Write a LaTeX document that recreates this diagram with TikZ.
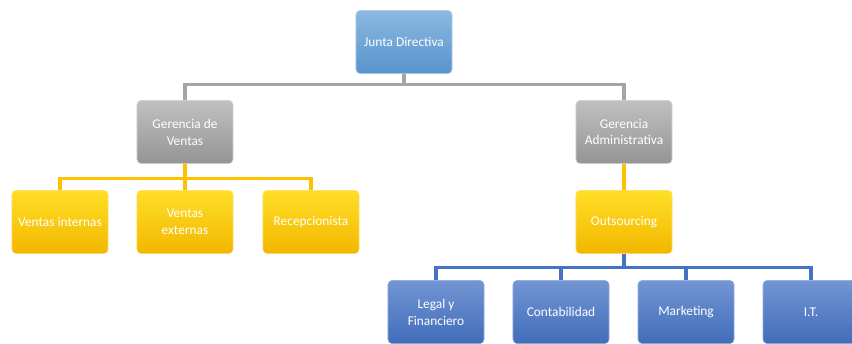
\documentclass[tikz,border=0pt]{standalone}
\usepackage{fontspec}
\setmainfont{Carlito}
\usepackage{tikz}
\usetikzlibrary{positioning}

\definecolor{jdblue}{HTML}{5B9BD5}
\definecolor{grayb}{HTML}{A5A5A5}
\definecolor{goldb}{HTML}{FFC000}
\definecolor{darkb}{HTML}{4472C4}

\begin{document}
\begin{tikzpicture}[
        x=0.025cm, y=-0.025cm,
        box/.style={rounded corners=3pt, minimum width=2.4cm, minimum height=1.58cm,
            align=center, text=white, font=\fontsize{9.5}{12}\selectfont,
            inner sep=1pt},
        topb/.style={box, top color=jdblue!70!white, bottom color=jdblue!95!black, draw=jdblue!50!white},
        grayn/.style={box, top color=grayb!70!white, bottom color=grayb!90!black, draw=grayb!50!white},
        goldn/.style={box, top color=goldb!60!yellow!85!white, bottom color=goldb!95!black, draw=goldb!60!white},
        bluen/.style={box, top color=darkb!75!white, bottom color=darkb!95!black, draw=darkb!60!white},
        gl/.style={draw=grayb, line width=2.2pt},
        yl/.style={draw=goldb, line width=2.2pt},
        bl/.style={draw=darkb, line width=2.2pt}
    ]
        \useasboundingbox (0,0) rectangle (852,343);
        \clip (0,0) rectangle (852,343);
        \node (jd) [topb] at (404,42) {Junta Directiva};
        \node (gv) [grayn] at (185,132) {Gerencia de\\Ventas};
        \node (ga) [grayn] at (624,132) {Gerencia\\Administrativa};
        \node (vi) [goldn] at (60,222) {Ventas internas};
        \node (ve) [goldn] at (185,222) {Ventas\\externas};
        \node (re) [goldn] at (311,222) {Recepcionista};
        \node (os) [goldn] at (624,222) {Outsourcing};
        \node (lf) [bluen] at (436,312) {Legal y\\Financiero};
        \node (co) [bluen] at (561,312) {Contabilidad};
        \node (mk) [bluen] at (686,312) {Marketing};
        \node (it) [bluen] at (811,312) {I.T.};

        % connectors
        \draw[gl] (jd.south) -- ++(0,11) -| (gv.north);
        \draw[gl] (jd.south) -- ++(0,11) -| (ga.north);
        \draw[yl] (gv.south) -- ++(0,15) -| (vi.north);
        \draw[yl] (gv.south) -- (ve.north);
        \draw[yl] (gv.south) -- ++(0,15) -| (re.north);
        \draw[yl] (ga.south) -- (os.north);
        \draw[bl] (os.south) -- ++(0,14) -| (lf.north);
        \draw[bl] (os.south) -- ++(0,14) -| (co.north);
        \draw[bl] (os.south) -- ++(0,14) -| (mk.north);
        \draw[bl] (os.south) -- ++(0,14) -| (it.north);
    \end{tikzpicture}
\end{document}
